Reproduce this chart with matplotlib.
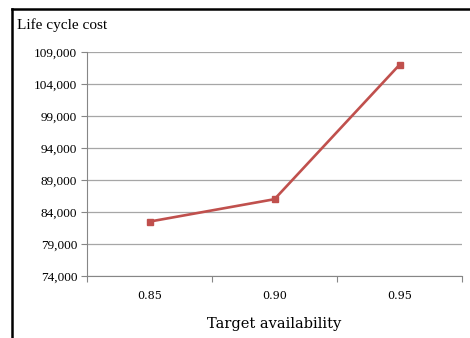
import matplotlib.pyplot as plt
from matplotlib.lines import Line2D

# life cycle cost for each target availability
availability = ["0.85", "0.90", "0.95"]
cost = [82500, 86000, 107000]
y_ticks = [74000, 79000, 84000, 89000, 94000, 99000, 104000, 109000]

fig = plt.figure(figsize=(4.7, 3.38), dpi=100)
ax = fig.add_axes([87 / 470, 62 / 338, 375 / 470, 224 / 338])

x = range(len(availability))
ax.plot(x, cost, color="#C0504D", lw=1.9, marker="s", ms=5, zorder=3)

ax.set_xlim(-0.5, len(availability) - 0.5)
ax.set_ylim(y_ticks[0], y_ticks[-1])
ax.set_yticks(y_ticks)
ax.set_yticklabels([f"{v:,}" for v in y_ticks], family="Liberation Serif", fontsize=9.5)
ax.grid(axis="y", color="#a6a6a6", lw=0.9)
ax.tick_params(axis="y", length=4, color="#868686", pad=3)

# category boundaries as major ticks, labels on the minor ones
ax.set_xticks([i - 0.5 for i in range(len(availability) + 1)])
ax.set_xticklabels([])
ax.set_xticks(list(x), minor=True)
ax.set_xticklabels(availability, minor=True, family="DejaVu Serif", fontsize=8)
ax.tick_params(axis="x", which="major", length=4, color="#868686")
ax.tick_params(axis="x", which="minor", length=0, pad=11)

for side in ["top", "right"]:
    ax.spines[side].set_visible(False)
for side in ["left", "bottom"]:
    ax.spines[side].set_color("#868686")

ax.set_xlabel("Target availability", family="DejaVu Serif", fontsize=10.5, labelpad=11)
fig.text(17 / 470, 1 - 25 / 338, "Life cycle cost", family="Liberation Serif",
         fontsize=11, va="center", ha="left")

# black frame on top and left
fig.add_artist(Line2D([11.5 / 470, 11.5 / 470], [0, 1 - 8.5 / 338],
                      transform=fig.transFigure, color="black", lw=1.8))
fig.add_artist(Line2D([11.5 / 470, 1], [1 - 8.5 / 338, 1 - 8.5 / 338],
                      transform=fig.transFigure, color="black", lw=1.8))

fig.savefig("out.png", dpi=100)
